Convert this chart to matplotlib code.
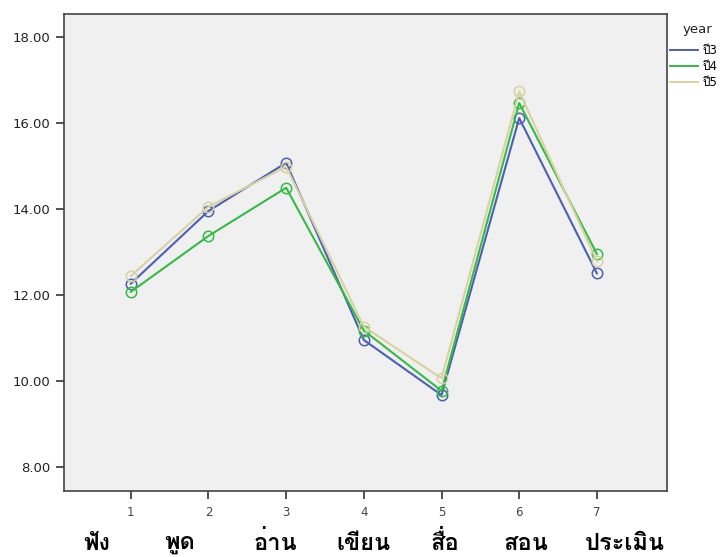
import matplotlib
matplotlib.use('Agg')
import matplotlib.pyplot as plt
from matplotlib import font_manager
from matplotlib.ft2font import FT2Font

# ข้อมูลคะแนนเฉลี่ยแต่ละทักษะ แยกตามชั้นปี
skills = [1, 2, 3, 4, 5, 6, 7]
skill_names = ['ฟัง', 'พูด', 'อ่าน', 'เขียน', 'สื่อ', 'สอน', 'ประเมิน']
year3 = [12.26, 13.95, 15.07, 10.95, 9.67, 16.11, 12.50]
year4 = [12.07, 13.37, 14.49, 11.17, 9.77, 16.46, 12.95]
year5 = [12.44, 14.05, 14.98, 11.26, 10.06, 16.73, 12.78]
series_labels = ['ปี3', 'ปี4', 'ปี5']
yticks = [8, 10, 12, 14, 16, 18]


def findThaiFont():
    # หา font ที่มีตัวอักษรไทย
    for f in font_manager.fontManager.ttflist:
        try:
            ft = FT2Font(f.fname)
            if ft.get_char_index(ord('ก')) != 0 and ft.get_char_index(ord('ี')) != 0:
                return f.name
        except Exception:
            continue
    return 'DejaVu Sans'


thaiFont = findThaiFont()
plt.rcParams['font.family'] = ['DejaVu Sans', thaiFont]

fig = plt.figure(figsize=(7.24, 5.57), dpi=100)
ax = fig.add_axes([0.0884, 0.1185, 0.8326, 0.8564])
ax.set_facecolor('#f0f0f0')

colors = ['#4a5fb5', '#33bb44', '#d8d2a0']
for vals, c, lab in zip([year3, year4, year5], colors, series_labels):
    ax.plot(skills, vals, color=c, linewidth=1.5, marker='o', markersize=7.5,
            markerfacecolor='none', markeredgecolor=c, markeredgewidth=1.1, label=lab)

ax.set_xlim(0.14, 7.9)
ax.set_ylim(7.44, 18.53)
ax.set_xticks(skills)
ax.set_xticklabels([str(s) for s in skills], fontsize=8.5, color='#444444')
ax.set_yticks(yticks)
ax.set_yticklabels([f'{v:.2f}' for v in yticks], fontsize=9.5, color='#222222')
ax.tick_params(axis='both', direction='out', length=6, width=1.2, color='#333333')
ax.tick_params(axis='x', pad=5)
for s in ax.spines.values():
    s.set_color('#444444')
    s.set_linewidth(1.2)

# legend อยู่นอกกราฟด้านขวา
fig.text(697 / 724, 1 - 30 / 557, 'year', ha='center', va='center', fontsize=9.5, color='#222222')
leg = fig.legend(loc='upper left', bbox_to_anchor=(0.925, 1 - 44 / 557), frameon=False,
                 fontsize=8.5, handlelength=2.4, handletextpad=0.4,
                 labelspacing=0.25, borderaxespad=0, borderpad=0)
for line in leg.get_lines():
    line.set_marker('')
    line.set_linewidth(1.4)

# ชื่อทักษะตัวหนาด้านล่าง
name_x = [97, 180, 275, 363, 445, 526, 625]
for nx, name in zip(name_x, skill_names):
    fig.text(nx / 724, 1 - 543 / 557, name, ha='center', va='center',
             fontsize=17, fontweight='bold', family=[thaiFont, 'DejaVu Sans'])

fig.savefig('out.png', dpi=100)
